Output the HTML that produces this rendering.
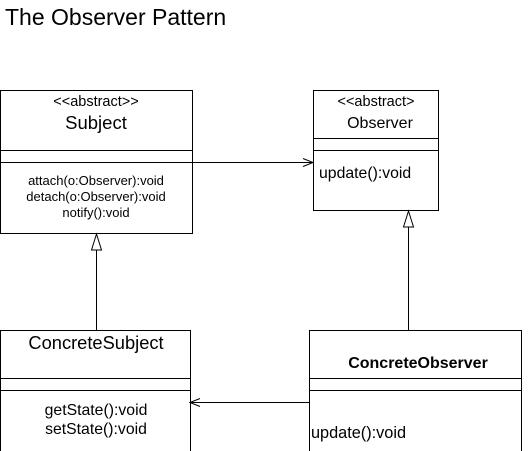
<!DOCTYPE html>
<html><head><style>
body{margin:0;background:#fff;}
svg{display:block;font-family:"Liberation Sans",Arial,sans-serif;}
</style></head><body>
<svg width="529" height="451" viewBox="0 0 529 451" xmlns="http://www.w3.org/2000/svg">
<text x="5" y="25" font-size="23" fill="#000">The Observer Pattern</text>
<g fill="none" stroke="#000" stroke-width="1">
<rect x="0.5" y="90.5" width="192" height="143"/>
<line x1="0" y1="150.5" x2="192" y2="150.5"/>
<line x1="0" y1="162.5" x2="192" y2="162.5"/>
<rect x="313.5" y="90.5" width="125" height="120"/>
<line x1="313" y1="138.5" x2="439" y2="138.5"/>
<line x1="313" y1="150.5" x2="439" y2="150.5"/>
<line x1="192" y1="162.5" x2="313" y2="162.5"/>
<polyline points="303,158.5 313,162.5 303,166.5"/>
<rect x="0.5" y="330.5" width="190" height="125"/>
<line x1="0" y1="378.5" x2="190" y2="378.5"/>
<line x1="0" y1="390.5" x2="190" y2="390.5"/>
<rect x="309.5" y="330.5" width="212" height="125"/>
<line x1="309" y1="378.5" x2="522" y2="378.5"/>
<line x1="309" y1="390.5" x2="522" y2="390.5"/>
<line x1="190" y1="402.5" x2="309" y2="402.5"/>
<polyline points="200,398.5 190,402.5 200,406.5"/>
<polygon points="96.5,234 91.5,250 101.5,250"/>
<line x1="96.5" y1="250" x2="96.5" y2="330"/>
<polygon points="408.5,211 403.5,227 413.5,227"/>
<line x1="408.5" y1="227" x2="408.5" y2="330"/>
</g>
<g fill="#000" text-anchor="middle">
<text x="96" y="106" font-size="14.5">&lt;&lt;abstract&gt;&gt;</text>
<text x="96" y="129" font-size="18.5">Subject</text>
<text x="96" y="185" font-size="13">attach(o:Observer):void</text>
<text x="96" y="201" font-size="13">detach(o:Observer):void</text>
<text x="96" y="217" font-size="13">notify():void</text>
<text x="376" y="106" font-size="14.5">&lt;&lt;abstract&gt;</text>
<text x="380" y="128" font-size="16">Observer</text>
<text x="96" y="349" font-size="18.3">ConcreteSubject</text>
<text x="96" y="415" font-size="15.8">getState():void</text>
<text x="96" y="434" font-size="15.8">setState():void</text>
<text x="418" y="368" font-size="16" font-weight="bold">ConcreteObserver</text>
</g>
<text x="319" y="178" font-size="15.8">update():void</text>
<text x="311" y="438" font-size="16.3">update():void</text>
</svg>
</body></html>
